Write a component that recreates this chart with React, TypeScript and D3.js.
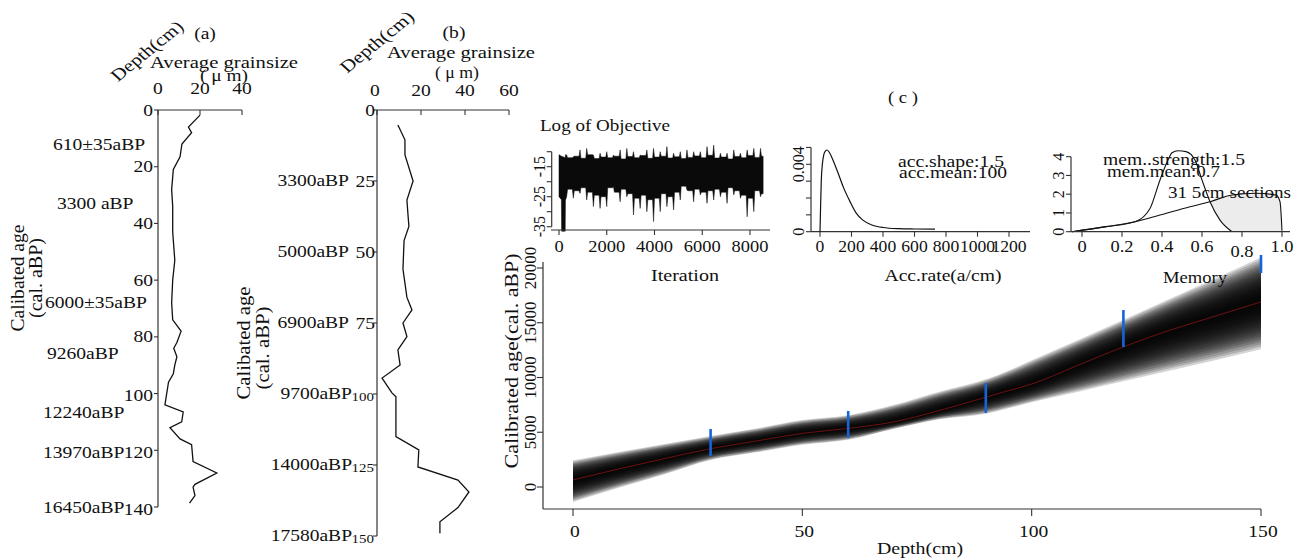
import React from 'react';
import * as d3 from 'd3';

// ---------------- Panel (a): average grain size vs depth ----------------
const depthA = [1.8, 6, 8, 12, 16.5, 21, 28, 34, 43, 53, 60, 68, 74, 78, 82, 84, 87, 90, 93, 96, 104, 106.5, 110, 112, 116, 118, 124, 128, 132, 133, 136, 138.6];
const grainA = [20, 14.5, 16, 11.4, 10.5, 7.3, 6.5, 7, 7, 8, 7, 6.5, 7, 11, 9, 7.5, 9, 8, 7.3, 5, 3.3, 12, 11.3, 5.7, 10.5, 16, 16.7, 28, 17.6, 16.7, 17.6, 15];
const depthTicksA = [0, 20, 40, 60, 80, 100, 120, 140];
const grainTicksA = [0, 20, 40];
const ageLabelsA = ['610±35aBP', '3300 aBP', '6000±35aBP', '9260aBP', '12240aBP', '13970aBP', '16450aBP'];
const ageDepthA = [12.3, 32.8, 68, 85.7, 106.5, 120.6, 140];

// ---------------- Panel (b) ----------------
const depthB = [5.3, 10.5, 15.8, 25, 31.7, 36, 41, 46, 56, 66, 70.4, 75, 79.8, 84.5, 89.8, 94.4, 99.6, 101, 115, 119.7, 125.7, 130.3, 134.5, 140, 145, 149];
const grainB = [9.5, 12.7, 12.7, 16.4, 13.6, 14, 14.5, 12.3, 11.8, 13.6, 15.9, 11.8, 13.6, 9.5, 10.5, 2.3, 6.8, 8.6, 8.6, 19, 18.6, 36.8, 41.8, 36.8, 28.6, 28.6];
const depthTicksB = [0, 25, 50, 75, 100, 125, 150];
const ageLabelsB = ['', '3300aBP', '5000aBP', '6900aBP', '9700aBP', '14000aBP', '17580aBP'];
const grainTicksB = [0, 20, 40, 60];

// ---------------- Panel (c): age-depth model ----------------
const modelDepth = [0, 10, 20, 30, 40, 50, 60, 70, 80, 90, 95, 100, 110, 120, 130, 140, 150];
const modelMedian = [650, 1650, 2600, 3500, 4200, 4900, 5350, 5950, 7000, 8200, 8800, 9400, 11100, 12800, 14300, 15600, 16900];
const modelLo = [-1100, 150, 1350, 2600, 3300, 4000, 4450, 5400, 6300, 6880, 7400, 7950, 9000, 10060, 11100, 12100, 13150];
const modelHi = [2200, 3000, 3750, 4500, 5200, 5950, 6400, 7300, 8500, 9620, 10400, 11300, 13100, 14950, 16800, 18600, 20450];
const dateDepth = [30, 60, 90, 120, 150];
const dateMin = [2830, 4470, 6760, 12780, 19540];
const dateMax = [5300, 6940, 9500, 16160, 21190];
const depthTicksC = [0, 50, 100, 150];
const ageTicksC = [0, 5000, 10000, 15000, 20000];

// Log of objective trace (envelope)
const iterations = [0, 100, 110, 260, 270, 320, 460, 600, 740, 880, 1020, 1160, 1300, 1440, 1580, 1720, 1860, 2000, 2140, 2280, 2420, 2560, 2700, 2840, 2980, 3120, 3260, 3400, 3540, 3680, 3820, 3960, 4100, 4240, 4380, 4520, 4660, 4800, 4940, 5080, 5220, 5360, 5500, 5640, 5780, 5920, 6060, 6200, 6340, 6480, 6620, 6760, 6900, 7040, 7180, 7320, 7460, 7600, 7740, 7880, 8020, 8160, 8300, 8440, 8550];
const logObjHigh = [-11.0, -11.5, -11.5, -12.0, -11.0, -11.1, -12.0, -11.7, -11.5, -9.4, -12.2, -8.9, -11.0, -11.1, -12.3, -10.5, -11.8, -10.0, -12.0, -11.1, -11.5, -9.4, -12.4, -8.9, -11.6, -10.0, -12.0, -11.1, -11.3, -9.4, -12.2, -8.9, -11.8, -10.0, -11.5, -8.3, -12.1, -10.5, -11.7, -10.0, -12.3, -9.4, -11.9, -10.0, -11.4, -10.0, -12.0, -8.3, -11.2, -7.8, -12.1, -10.5, -11.8, -10.5, -12.4, -9.4, -11.6, -10.5, -12.0, -9.4, -11.3, -8.9, -11.9, -8.9, -11.5];
const logObjLow = [-25.0, -26.0, -36.5, -36.5, -26.0, -25.0, -22.5, -25.5, -23.0, -23.9, -22.0, -26.1, -23.5, -28.3, -24.5, -28.9, -25.0, -28.3, -22.0, -21.7, -23.5, -26.7, -22.5, -25.0, -24.0, -31.1, -25.5, -28.9, -24.5, -30.0, -26.0, -33.3, -25.5, -30.0, -24.0, -28.3, -25.0, -29.4, -23.5, -26.1, -21.5, -22.8, -23.0, -26.7, -22.5, -24.4, -23.5, -27.2, -23.0, -26.1, -22.5, -25.0, -23.5, -27.2, -22.0, -24.4, -23.0, -25.5, -24.5, -31.7, -25.5, -30.0, -23.0, -25.0, -24.0];
const iterTicks = [0, 2000, 4000, 6000, 8000];
const logTicks = [-10, -15, -20, -25, -30, -35];
const logTickLabels = ['', '-15', '', '-25', '', '-35'];

// Accumulation rate prior
const accRate = [0, 3, 8, 15, 25, 35, 45, 60, 80, 110, 150, 190, 230, 270, 330, 400, 500, 600, 730];
const accDensity = [0, 0.0012, 0.003, 0.004, 0.0046, 0.0048, 0.00485, 0.0047, 0.0043, 0.0036, 0.0026, 0.0018, 0.0011, 0.0007, 0.0004, 0.00025, 0.00018, 0.00016, 0.00015];
const accTicksX = [0, 200, 400, 600, 800, 1000, 1200];
const accTicksY = [0, 0.001, 0.002, 0.003, 0.004, 0.005];
const accTickLabelsY = ['0', '', '', '', '0.004', ''];

// Memory prior / posterior
const memPriorX = [-0.05, 0.12, 0.265, 0.39, 0.54, 0.64, 0.75, 0.87, 0.97, 0.99, 1.0];
const memPrior = [0, 0.27, 0.53, 0.89, 1.33, 1.6, 1.96, 2.05, 1.96, 1.6, 0.05];
const memPostX = [-0.05, 0.12, 0.265, 0.34, 0.39, 0.43, 0.45, 0.48, 0.52, 0.565, 0.6, 0.64, 0.69, 0.75];
const memPost = [0, 0.27, 0.53, 1.24, 2.76, 3.82, 4.21, 4.32, 4.27, 3.82, 2.76, 1.6, 0.62, 0.0];
const memTicksX = [0, 0.2, 0.4, 0.6, 0.8, 1.0];
const memTickLabelsX = ['0', '0.2', '0.4', '0.6', '0.8', '1.0'];
const memTicksY = [0, 1, 2, 3, 4];

// ---------------- drawing helpers ----------------
const FONT = "'Liberation Serif','Times New Roman',Times,serif";
const SX = 1.15;
const INK = '#111';
const AX = '#333';

function T({ x, y, text, size = 16, anchor = 'middle', rot = 0, len, sx = SX }: any) {
  const r = (rot * Math.PI) / 180;
  const f = Math.sqrt((Math.cos(r) * sx) ** 2 + Math.sin(r) ** 2);
  const extra: any = len ? { textLength: len / f, lengthAdjust: 'spacingAndGlyphs' } : {};
  return (
    <text
      transform={`translate(${x},${y}) scale(${sx},1) rotate(${rot})`}
      textAnchor={anchor}
      dominantBaseline="central"
      fontSize={size}
      fontFamily={FONT}
      fill={INK}
      {...extra}
    >
      {text}
    </text>
  );
}

export default function App() {
  // scales
  const xA = d3.scaleLinear([0, 40], [158, 242]);
  const yA = d3.scaleLinear([0, 140], [110, 507]);
  const xB = d3.scaleLinear([0, 60], [377, 509]);
  const yB = d3.scaleLinear([0, 150], [110, 536]);
  const xC = d3.scaleLinear([0, 150], [573, 1261]);
  const yC = d3.scaleLinear([0, 20000], [487, 268]);
  const xL = d3.scaleLinear([0, 8000], [559, 750]);
  const yL = d3.scaleLinear([-15, -35], [166.7, 226.7]);
  const xR = d3.scaleLinear([0, 1200], [820, 1009]);
  const yR = d3.scaleLinear([0, 0.004], [231.7, 164.3]);
  const xM = d3.scaleLinear([0, 1], [1082, 1282]);
  const yM = d3.scaleLinear([0, 4], [231.7, 156.7]);

  const lineA = d3.line<number>().x((_, i) => xA(grainA[i])).y((d) => yA(d))(depthA) as string;
  const lineB = d3.line<number>().x((_, i) => xB(grainB[i])).y((d) => yB(d))(depthB) as string;

  // age model band: many translucent layers -> smooth grey density
  const idx = modelDepth.map((_, i) => i);
  const layers = d3.range(18).map((k) => 1.15 - k * 0.06);
  const band = (f: number) =>
    d3
      .area<number>()
      .x((i) => xC(modelDepth[i]))
      .y0((i) => yC(modelMedian[i] - f * (modelMedian[i] - modelLo[i])))
      .y1((i) => yC(modelMedian[i] + f * (modelHi[i] - modelMedian[i])))
      .curve(d3.curveMonotoneX)(idx) as string;
  const mline = (arr: number[]) =>
    d3.line<number>().x((i) => xC(modelDepth[i])).y((i) => yC(arr[i])).curve(d3.curveMonotoneX)(idx) as string;

  // log objective: narrow spikes at the read extreme points
  type P = { it: number; hi: number; lo: number };
  const pts: P[] = [];
  iterations.forEach((it, i) => {
    const isPeak = i >= 5 && (i - 5) % 2 === 0 && i < iterations.length - 1;
    if (isPeak) pts.push({ it: it - 40, hi: logObjHigh[i - 1], lo: logObjLow[i - 1] });
    pts.push({ it, hi: logObjHigh[i], lo: logObjLow[i] });
    if (isPeak) pts.push({ it: it + 40, hi: logObjHigh[i + 1], lo: logObjLow[i + 1] });
  });
  const logArea = d3
    .area<P>()
    .x((d) => xL(d.it))
    .y0((d) => yL(d.lo))
    .y1((d) => yL(d.hi))(pts) as string;

  const accLine = d3.line<number>().x((d) => xR(d)).y((_, i) => yR(accDensity[i])).curve(d3.curveMonotoneX)(accRate) as string;

  const priorArea = d3.area<number>().x((d) => xM(d)).y0(yM(0)).y1((_, i) => yM(memPrior[i])).curve(d3.curveMonotoneX)(memPriorX) as string;
  const priorLine = d3.line<number>().x((d) => xM(d)).y((_, i) => yM(memPrior[i])).curve(d3.curveMonotoneX)(memPriorX) as string;
  const postArea = d3.area<number>().x((d) => xM(d)).y0(yM(0)).y1((_, i) => yM(memPost[i])).curve(d3.curveMonotoneX)(memPostX) as string;
  const postLine = d3.line<number>().x((d) => xM(d)).y((_, i) => yM(memPost[i])).curve(d3.curveMonotoneX)(memPostX) as string;

  const ageStartA = [53, 57, 45, 47, 43, 43, 43];

  return (
    <svg width={1306} height={559} style={{ position: 'absolute', left: 0, top: 0, background: '#fff' }}>
      <rect width={1306} height={559} fill="#fff" />

      {/* ================= Panel (a) ================= */}
      <g>
        <T x={205} y={33} text="(a)" size={17} />
        <T x={147} y={51} text="Depth(cm)" size={17} rot={-43} len={86} />
        <T x={150} y={62} text="Average  grainsize" size={17} anchor="start" len={148} />
        <T x={224} y={75} text="( μ m)" size={17} len={48} />
        <line x1={158} x2={242} y1={110} y2={110} stroke={AX} strokeWidth={1.2} />
        {grainTicksA.map((t) => (
          <g key={t}>
            <line x1={xA(t)} x2={xA(t)} y1={110} y2={115} stroke={AX} strokeWidth={1.1} />
            <T x={xA(t)} y={88} text={String(t)} size={17} />
          </g>
        ))}
        <line x1={158} x2={158} y1={110} y2={507} stroke={AX} strokeWidth={1.2} />
        {depthTicksA.map((t) => (
          <g key={t}>
            <line x1={154} x2={158} y1={yA(t)} y2={yA(t)} stroke={AX} strokeWidth={1.1} />
            <T x={153} y={yA(t) + (t >= 100 ? 2 : 0)} text={String(t)} size={17} anchor="end" />
          </g>
        ))}
        {ageLabelsA.map((s, i) => (
          <T key={s} x={ageStartA[i]} y={yA(ageDepthA[i])} text={s} size={17} anchor="start" />
        ))}
        <path d={lineA} fill="none" stroke={INK} strokeWidth={1.3} />
        <T x={18} y={278} text="Calibated age" size={17} rot={-90} len={107} />
        <T x={36} y={278} text="(cal. aBP)" size={17} rot={-90} len={80} />
      </g>

      {/* ================= Panel (b) ================= */}
      <g>
        <T x={454} y={32} text="(b)" size={17} />
        <T x={377} y={42} text="Depth(cm)" size={17} rot={-43} len={88} />
        <T x={387} y={52} text="Average  grainsize" size={17} anchor="start" len={148} />
        <T x={457} y={72} text="( μ m)" size={17} len={44} />
        <line x1={377} x2={509} y1={110} y2={110} stroke={AX} strokeWidth={1.2} />
        {grainTicksB.map((t) => (
          <g key={t}>
            <line x1={xB(t)} x2={xB(t)} y1={110} y2={115} stroke={AX} strokeWidth={1.1} />
            <T x={xB(t) - (t === 0 ? 2 : 0)} y={90} text={String(t)} size={17} />
          </g>
        ))}
        <line x1={377} x2={377} y1={110} y2={536} stroke={AX} strokeWidth={1.2} />
        {depthTicksB.map((t, i) => (
          <g key={t}>
            <line x1={373} x2={377} y1={yB(t)} y2={yB(t)} stroke={AX} strokeWidth={1.1} />
            {t >= 100 ? (
              <T x={374} y={yB(t) + 3} text={String(t)} size={13} anchor="end" />
            ) : (
              <T x={375} y={yB(t)} text={String(t)} size={17} anchor="end" />
            )}
            {ageLabelsB[i] ? <T x={t >= 100 ? 352 : 349} y={yB(t) - 1} text={ageLabelsB[i]} size={17} anchor="end" /> : null}
          </g>
        ))}
        <path d={lineB} fill="none" stroke={INK} strokeWidth={1.3} />
        <T x={244} y={343} text="Calibated age" size={17} rot={-90} len={113} />
        <T x={263} y={348} text="(cal. aBP)" size={17} rot={-90} len={83} />
      </g>

      {/* ================= Panel (c) ================= */}
      <T x={903} y={97} text="( c )" size={17} len={30} />

      {/* Log of objective */}
      <g>
        <T x={540} y={125} text="Log of Objective" size={17} anchor="start" len={130} />
        <path d={logArea} fill="#0a0a0a" stroke="#0a0a0a" strokeWidth={0.5} />
        <line x1={551.7} x2={551.7} y1={yL(-10)} y2={yL(-35)} stroke={AX} strokeWidth={1.2} />
        {logTicks.map((t, i) => (
          <g key={t}>
            <line x1={546.7} x2={551.7} y1={yL(t)} y2={yL(t)} stroke={AX} strokeWidth={1.1} />
            {logTickLabels[i] ? <T x={539} y={yL(t)} text={logTickLabels[i]} size={16} rot={-90} sx={1} /> : null}
          </g>
        ))}
        <line x1={551} x2={770} y1={230} y2={230} stroke={AX} strokeWidth={1.2} />
        {iterTicks.map((t) => (
          <g key={t}>
            <line x1={xL(t)} x2={xL(t)} y1={230} y2={235} stroke={AX} strokeWidth={1.1} />
            <T x={xL(t)} y={247} text={String(t)} size={16} />
          </g>
        ))}
        <T x={685} y={275} text="Iteration" size={17} len={68} />
      </g>

      {/* Acc rate */}
      <g>
        <line x1={811} x2={811} y1={yR(0.005)} y2={yR(0)} stroke={AX} strokeWidth={1.2} />
        {accTicksY.map((t, i) => (
          <g key={t}>
            <line x1={806} x2={811} y1={yR(t)} y2={yR(t)} stroke={AX} strokeWidth={1.1} />
            {accTickLabelsY[i] ? <T x={798} y={yR(t)} text={accTickLabelsY[i]} size={16} rot={-90} sx={1} /> : null}
          </g>
        ))}
        <line x1={811} x2={1030} y1={231.7} y2={231.7} stroke={AX} strokeWidth={1.2} />
        {accTicksX.map((t) => (
          <g key={t}>
            <line x1={xR(t)} x2={xR(t)} y1={231.7} y2={236.7} stroke={AX} strokeWidth={1.1} />
            <T x={xR(t)} y={247} text={String(t)} size={16} sx={1.1} />
          </g>
        ))}
        <path d={accLine} fill="none" stroke={INK} strokeWidth={1.2} />
        <T x={898} y={162} text="acc.shape:1.5" size={16} anchor="start" len={106} />
        <T x={899} y={173} text="acc.mean:100" size={16} anchor="start" len={108} />
        <T x={943} y={275} text="Acc.rate(a/cm)" size={17} len={117} />
      </g>

      {/* Memory */}
      <g>
        <path d={priorArea} fill="#ececec" stroke="none" />
        <path d={postArea} fill="#fff" stroke="none" />
        <path d={priorLine} fill="none" stroke={INK} strokeWidth={1.1} />
        <path d={postLine} fill="none" stroke={INK} strokeWidth={1.1} />
        <line x1={1071} x2={1071} y1={yM(4)} y2={yM(0)} stroke={AX} strokeWidth={1.2} />
        {memTicksY.map((t) => (
          <g key={t}>
            <line x1={1066} x2={1071} y1={yM(t)} y2={yM(t)} stroke={AX} strokeWidth={1.1} />
            <T x={1058} y={yM(t)} text={String(t)} size={16} rot={-90} sx={1} />
          </g>
        ))}
        <line x1={1071} x2={1290} y1={231.7} y2={231.7} stroke={AX} strokeWidth={1.2} />
        {memTicksX.map((t, i) => (
          <g key={t}>
            <line x1={xM(t)} x2={xM(t)} y1={231.7} y2={236.7} stroke={AX} strokeWidth={1.1} />
            <T x={xM(t)} y={t === 0.8 ? 252 : 247} text={memTickLabelsX[i]} size={16} />
          </g>
        ))}
        <T x={1103} y={160} text="mem..strength:1.5" size={16} anchor="start" len={142} />
        <T x={1107} y={172} text="mem.mean:0.7" size={16} anchor="start" len={113} />
        <T x={1168} y={193} text="31 5cm sections" size={16} anchor="start" len={123} />
        <T x={1195} y={277} text="Memory" size={17} len={64} />
      </g>

      {/* Main age-depth plot */}
      <g>
        {layers.map((f) => (
          <path key={f} d={band(f)} fill="#000" fillOpacity={0.17} stroke="none" />
        ))}
        <path d={mline(modelLo)} fill="none" stroke="#9a9a9a" strokeWidth={0.9} strokeDasharray="1.5 1" />
        <path d={mline(modelHi)} fill="none" stroke="#9a9a9a" strokeWidth={0.9} strokeDasharray="1.5 1" />
        <path d={mline(modelMedian)} fill="none" stroke="#b01818" strokeWidth={0.8} strokeOpacity={0.75} />
        {dateDepth.map((d, i) => (
          <line key={d} x1={xC(d)} x2={xC(d)} y1={yC(dateMin[i])} y2={yC(dateMax[i])} stroke="#1665d8" strokeWidth={2.6} />
        ))}
        <line x1={543} x2={543} y1={262} y2={509} stroke={AX} strokeWidth={1.2} />
        {ageTicksC.map((t) => (
          <g key={t}>
            <line x1={537} x2={543} y1={yC(t)} y2={yC(t)} stroke={AX} strokeWidth={1.1} />
            <T x={530} y={yC(t)} text={String(t)} size={17} rot={-90} sx={1} />
          </g>
        ))}
        <line x1={543} x2={1261} y1={509} y2={509} stroke={AX} strokeWidth={1.2} />
        {depthTicksC.map((t) => (
          <g key={t}>
            <line x1={xC(t)} x2={xC(t)} y1={509} y2={516} stroke={AX} strokeWidth={1.1} />
            <T x={xC(t) + 2} y={531} text={String(t)} size={17} />
          </g>
        ))}
        <T x={512} y={361} text="Calibrated age(cal. aBP)" size={17} rot={-90} len={215} />
        <T x={920} y={548} text="Depth(cm)" size={17} len={86} />
      </g>
    </svg>
  );
}
